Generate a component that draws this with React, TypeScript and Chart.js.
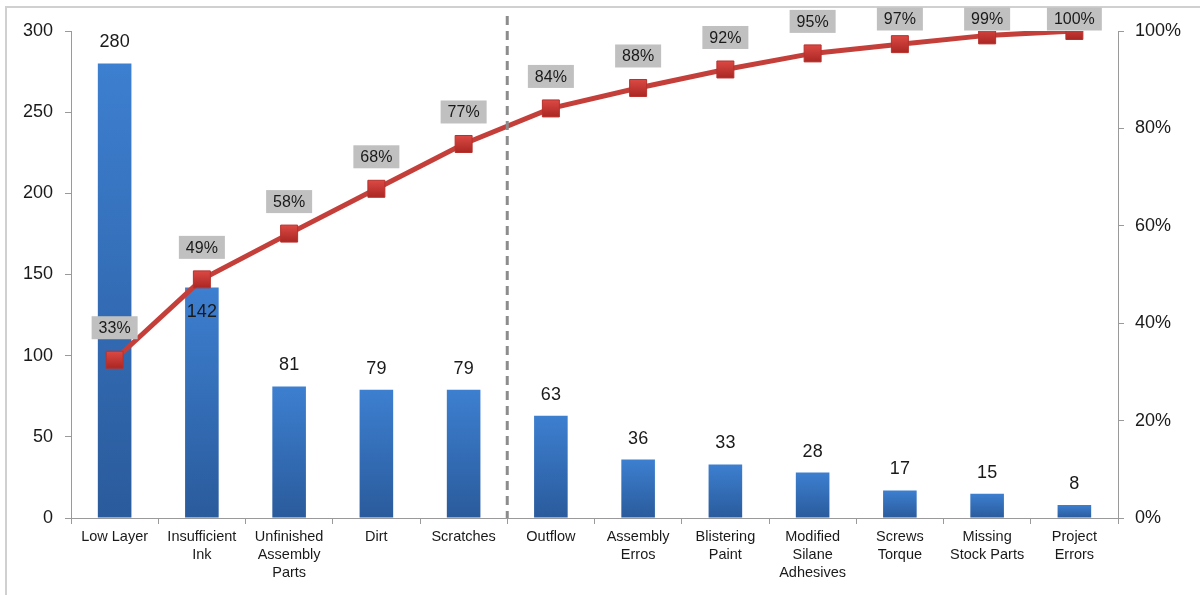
import React, { useEffect, useRef } from "react";
import { Chart, registerables } from "chart.js";

Chart.register(...registerables);

const categories: string[][] = [
  ["Low Layer"],
  ["Insufficient", "Ink"],
  ["Unfinished", "Assembly", "Parts"],
  ["Dirt"],
  ["Scratches"],
  ["Outflow"],
  ["Assembly", "Erros"],
  ["Blistering", "Paint"],
  ["Modified", "Silane", "Adhesives"],
  ["Screws", "Torque"],
  ["Missing", "Stock Parts"],
  ["Project", "Errors"],
];
const counts: number[] = [280, 142, 81, 79, 79, 63, 36, 33, 28, 17, 15, 8];
const cumulativePct: number[] = [32.5, 49.0, 58.4, 67.6, 76.8, 84.1, 88.3, 92.1, 95.4, 97.3, 99.1, 100];
const cumulativeLabels: string[] = ["33%", "49%", "58%", "68%", "77%", "84%", "88%", "92%", "95%", "97%", "99%", "100%"];
const leftTicks: number[] = [0, 50, 100, 150, 200, 250, 300];
const rightTicks: number[] = [0, 20, 40, 60, 80, 100];
const dividerAfterIndex = 4;

const FONT = "'Liberation Sans', Arial, sans-serif";

const decorPlugin = {
  id: "decor",
  beforeDraw(chart: any) {
    const ctx = chart.ctx;
    ctx.save();
    ctx.fillStyle = "#ffffff";
    ctx.fillRect(0, 0, chart.width, chart.height);
    ctx.strokeStyle = "#d0d0d0";
    ctx.lineWidth = 2;
    ctx.strokeRect(6, 7, chart.width + 20, chart.height + 20);
    ctx.restore();
  },
  afterDatasetsDraw(chart: any) {
    const ctx = chart.ctx;
    const x = chart.scales.x;
    const area = chart.chartArea;
    // dashed divider
    const dx = (x.getPixelForValue(dividerAfterIndex) + x.getPixelForValue(dividerAfterIndex + 1)) / 2;
    ctx.save();
    ctx.strokeStyle = "#8c8c8c";
    ctx.lineWidth = 3;
    ctx.setLineDash([9, 6]);
    ctx.beginPath();
    ctx.moveTo(dx, 16);
    ctx.lineTo(dx, area.bottom);
    ctx.stroke();
    ctx.restore();

    // bar labels
    const barMeta = chart.getDatasetMeta(0);
    ctx.save();
    ctx.font = `18px ${FONT}`;
    ctx.fillStyle = "#1a1a1a";
    ctx.textAlign = "center";
    ctx.textBaseline = "middle";
    barMeta.data.forEach((el: any, i: number) => {
      let y = el.y - 21;
      if (i === 1) y = el.y + 25;
      ctx.fillText(String(counts[i]), el.x, y);
    });
    ctx.restore();

    // line labels
    const lineMeta = chart.getDatasetMeta(1);
    ctx.save();
    ctx.font = `16px ${FONT}`;
    ctx.textAlign = "center";
    ctx.textBaseline = "middle";
    lineMeta.data.forEach((el: any, i: number) => {
      const cy = Math.max(el.y - 32, 19);
      const txt = cumulativeLabels[i];
      const w = ctx.measureText(txt).width + 14;
      const h = 23;
      ctx.fillStyle = "#c0c0c0";
      ctx.fillRect(el.x - w / 2, cy - h / 2, w, h);
      ctx.fillStyle = "#1a1a1a";
      ctx.fillText(txt, el.x, cy + 1);
    });
    ctx.restore();
  },
};

export default function App() {
  const ref = useRef<HTMLCanvasElement | null>(null);

  useEffect(() => {
    if (!ref.current) return;
    const barGradient = (context: any) => {
      const chart = context.chart;
      const ys = chart.scales && chart.scales.y;
      if (!ys || context.dataIndex === undefined) return "#3475c4";
      const top = ys.getPixelForValue(counts[context.dataIndex]);
      const bottom = ys.getPixelForValue(0);
      if (!isFinite(top) || !isFinite(bottom) || top === bottom) return "#3475c4";
      const g = chart.ctx.createLinearGradient(0, top, 0, bottom);
      g.addColorStop(0, "#3d7fd0");
      g.addColorStop(1, "#2a5b9c");
      return g;
    };
    const markerGradient = (context: any) => {
      const chart = context.chart;
      const el = context.element;
      if (!el || !isFinite(el.y)) return "#c63a36";
      const g = chart.ctx.createLinearGradient(0, el.y - 9, 0, el.y + 9);
      g.addColorStop(0, "#dd4a45");
      g.addColorStop(1, "#a92622");
      return g;
    };

    const chart = new Chart(ref.current, {
      type: "bar",
      data: {
        labels: categories,
        datasets: [
          {
            type: "bar",
            data: counts,
            yAxisID: "y",
            backgroundColor: barGradient,
            barPercentage: 0.385,
            categoryPercentage: 1,
            order: 2,
          },
          {
            type: "line",
            data: cumulativePct,
            yAxisID: "y2",
            borderColor: "#c43f3a",
            borderWidth: 5,
            pointStyle: "rect",
            pointRadius: 12,
            pointBackgroundColor: markerGradient,
            pointBorderColor: "#b8302c",
            pointBorderWidth: 1,
            tension: 0,
            order: 1,
          },
        ] as any,
      },
      options: {
        animation: false,
        responsive: false,
        maintainAspectRatio: false,
        layout: { padding: { top: 31, left: 0, right: 0, bottom: 0 } },
        plugins: {
          legend: { display: false },
          tooltip: { enabled: false },
        },
        scales: {
          x: {
            grid: {
              display: true,
              drawOnChartArea: false,
              tickLength: 6,
              tickColor: "#9a9a9a",
              offset: true,
            },
            border: { color: "#9a9a9a", width: 1 },
            ticks: {
              color: "#1a1a1a",
              font: { family: FONT, size: 14.5, lineHeight: 1.24 },
              padding: 4,
              maxRotation: 0,
              autoSkip: false,
            },
            afterFit: (s: any) => {
              s.height = 77;
            },
          },
          y: {
            position: "left",
            min: 0,
            max: 300,
            afterBuildTicks: (s: any) => {
              s.ticks = leftTicks.map((v) => ({ value: v }));
            },
            grid: {
              display: true,
              drawOnChartArea: false,
              tickLength: 6,
              tickColor: "#9a9a9a",
            },
            border: { color: "#9a9a9a", width: 1 },
            ticks: {
              color: "#1a1a1a",
              font: { family: FONT, size: 18 },
              padding: 12,
            },
            afterFit: (s: any) => {
              s.width = 71;
            },
          },
          y2: {
            position: "right",
            min: 0,
            max: 100,
            afterBuildTicks: (s: any) => {
              s.ticks = rightTicks.map((v) => ({ value: v }));
            },
            grid: {
              display: true,
              drawOnChartArea: false,
              tickLength: 6,
              tickColor: "#9a9a9a",
            },
            border: { color: "#9a9a9a", width: 1 },
            ticks: {
              color: "#1a1a1a",
              font: { family: FONT, size: 18 },
              padding: 11,
              callback: (v: any) => `${v}%`,
            },
            afterFit: (s: any) => {
              s.width = 82;
            },
          },
        },
      },
      plugins: [decorPlugin],
    } as any);
    return () => chart.destroy();
  }, []);

  return (
    <div style={{ position: "absolute", left: 0, top: 0, width: 1200, height: 595 }}>
      <canvas ref={ref} width={1200} height={595} style={{ display: "block", width: 1200, height: 595 }} />
    </div>
  );
}
